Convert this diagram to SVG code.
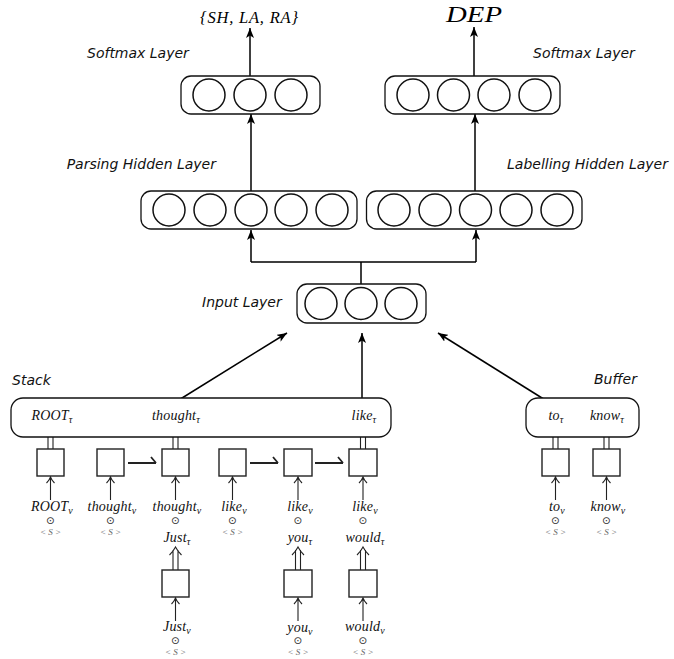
<svg xmlns="http://www.w3.org/2000/svg" xmlns:xlink="http://www.w3.org/1999/xlink" width="674" height="659" viewBox="0 0 674 659">
<style>
.lay{fill:#fff;stroke:#111;stroke-width:1.3}
.neu{fill:#fff;stroke:#111;stroke-width:1.5}
.lbl{font-family:"DejaVu Sans",sans-serif;font-style:italic;font-size:14px;fill:#111}
.m{font-family:"Liberation Serif",serif;font-style:italic;font-size:14px;fill:#111;text-anchor:middle;letter-spacing:0.2px}
.sub{font-size:10px}
.dot{font-family:"DejaVu Sans",sans-serif;font-size:10.5px;fill:#333;text-anchor:middle}
.s{font-family:"Liberation Serif",serif;font-style:italic;font-size:9px;fill:#666;text-anchor:middle}
.sq{fill:#fff;stroke:#222;stroke-width:1.4}
.arr{stroke:#000;stroke-width:1.5;fill:none;marker-end:url(#ah)}
.thin{stroke:#222;stroke-width:1.1;fill:none}
.harp{stroke:#222;stroke-width:1.8;fill:none}
</style>
<defs>
<marker id="ah" markerUnits="userSpaceOnUse" markerWidth="11" markerHeight="8" refX="10" refY="4" orient="auto">
<path d="M0,0 L10,4 L0,8 L2.5,4 z" fill="#000"/>
</marker>
<g id="darr" class="thin"><path d="M-2.5,23 V3 M2.5,23 V3 M-6,8 Q-2,4 0,0 Q2,4 6,8"/></g>
<g id="sarr" class="thin"><path d="M0,23 V0 M-4,6 Q-1,3 0,0 Q1,3 4,6"/></g>
<g id="harp" class="harp"><path d="M0,0 H28 M23,-6 L28,0"/></g>
</defs>

<g id="connectors">
<line class="arr" x1="250" y1="76" x2="250" y2="28"/>
<line class="arr" x1="474" y1="76" x2="474" y2="27"/>
<line class="arr" x1="251" y1="191" x2="251" y2="114"/>
<line class="arr" x1="475" y1="191" x2="475" y2="114"/>
<path d="M361,284 V262 M251,262 H476" stroke="#000" stroke-width="1.5" fill="none"/>
<line class="arr" x1="251" y1="262" x2="251" y2="230"/>
<line class="arr" x1="476" y1="262" x2="476" y2="230"/>
<line class="arr" x1="174" y1="403" x2="287" y2="333"/>
<line class="arr" x1="362" y1="398" x2="362" y2="333"/>
<line class="arr" x1="550" y1="403" x2="438" y2="333"/>
<use xlink:href="#darr" x="50.5" y="426"/>
<use xlink:href="#darr" x="175.5" y="426"/>
<use xlink:href="#darr" x="363" y="426"/>
<use xlink:href="#darr" x="555.5" y="426"/>
<use xlink:href="#darr" x="606.5" y="426"/>
<use xlink:href="#darr" x="175.5" y="547"/>
<use xlink:href="#darr" x="298" y="547"/>
<use xlink:href="#darr" x="363" y="547"/>
<use xlink:href="#sarr" x="50.5" y="477"/>
<use xlink:href="#sarr" x="110.5" y="477"/>
<use xlink:href="#sarr" x="175.5" y="477"/>
<use xlink:href="#sarr" x="232.5" y="477"/>
<use xlink:href="#sarr" x="298" y="477"/>
<use xlink:href="#sarr" x="363" y="477"/>
<use xlink:href="#sarr" x="555.5" y="477"/>
<use xlink:href="#sarr" x="606.5" y="477"/>
<use xlink:href="#sarr" x="175.5" y="598"/>
<use xlink:href="#sarr" x="298" y="598"/>
<use xlink:href="#sarr" x="363" y="598"/>
<use xlink:href="#harp" x="128" y="463"/>
<use xlink:href="#harp" x="250" y="463"/>
<use xlink:href="#harp" x="315" y="463"/>
</g>

<g id="out-parse">
<text x="249" y="23" font-family="Liberation Serif,serif" font-style="italic" font-size="16.5" text-anchor="middle" textLength="98" lengthAdjust="spacing">{SH, LA, RA}</text>
</g>
<g id="out-dep">
<text transform="translate(474,22) scale(1.25,1)" x="0" y="0" font-family="Liberation Serif,serif" font-style="italic" font-size="23" text-anchor="middle">DEP</text>
</g>

<g id="softmax-parse">
<rect class="lay" x="181" y="76" width="139" height="38" rx="10"/>
<circle class="neu" cx="209" cy="95" r="16"/>
<circle class="neu" cx="250" cy="95" r="16"/>
<circle class="neu" cx="291" cy="95" r="16"/>
<text class="lbl" x="87" y="58">Softmax Layer</text>
</g>
<g id="softmax-label">
<rect class="lay" x="385" y="76" width="175" height="38" rx="10"/>
<circle class="neu" cx="413" cy="95" r="16"/>
<circle class="neu" cx="453.5" cy="95" r="16"/>
<circle class="neu" cx="494" cy="95" r="16"/>
<circle class="neu" cx="535" cy="95" r="16"/>
<text class="lbl" x="533" y="58">Softmax Layer</text>
</g>

<g id="hidden-parse">
<rect class="lay" x="141" y="191" width="216" height="38" rx="10"/>
<circle class="neu" cx="169" cy="210" r="16"/>
<circle class="neu" cx="210" cy="210" r="16"/>
<circle class="neu" cx="251" cy="210" r="16"/>
<circle class="neu" cx="291" cy="210" r="16"/>
<circle class="neu" cx="332" cy="210" r="16"/>
<text class="lbl" x="216" y="169" text-anchor="end">Parsing Hidden Layer</text>
</g>
<g id="hidden-label">
<rect class="lay" x="366.5" y="191" width="215.5" height="38" rx="10"/>
<circle class="neu" cx="394" cy="210" r="16"/>
<circle class="neu" cx="435" cy="210" r="16"/>
<circle class="neu" cx="475.5" cy="210" r="16"/>
<circle class="neu" cx="516" cy="210" r="16"/>
<circle class="neu" cx="557" cy="210" r="16"/>
<text class="lbl" x="507" y="169">Labelling Hidden Layer</text>
</g>

<g id="input">
<rect class="lay" x="297" y="284" width="129" height="39" rx="10"/>
<circle class="neu" cx="321" cy="303.5" r="16"/>
<circle class="neu" cx="361" cy="303.5" r="16"/>
<circle class="neu" cx="401" cy="303.5" r="16"/>
<text class="lbl" x="202" y="307">Input Layer</text>
</g>

<g id="stack">
<rect class="lay" x="11" y="398" width="380" height="39" rx="12"/>
<text class="lbl" x="12" y="385">Stack</text>
<text class="m" x="52" y="420">ROOT<tspan class="sub" dy="3">τ</tspan></text>
<text class="m" x="176" y="420">thought<tspan class="sub" dy="3">τ</tspan></text>
<text class="m" x="364" y="420">like<tspan class="sub" dy="3">τ</tspan></text>
</g>
<g id="buffer">
<rect class="lay" x="526" y="398" width="113" height="39" rx="12"/>
<text class="lbl" x="594" y="384">Buffer</text>
<text class="m" x="556" y="420">to<tspan class="sub" dy="3">τ</tspan></text>
<text class="m" x="607" y="420">know<tspan class="sub" dy="3">τ</tspan></text>
</g>

<g id="n-root">
<rect class="sq" x="37" y="449" width="27" height="27"/>
<text class="m" x="52" y="511">ROOT<tspan class="sub" dy="3">v</tspan></text>
<text class="dot" x="50.5" y="524">⊙</text>
<text class="s" x="50.5" y="535">&lt; S &gt;</text>
</g>
<g id="n-thought1">
<rect class="sq" x="97" y="449" width="27" height="27"/>
<text class="m" x="112" y="511">thought<tspan class="sub" dy="3">v</tspan></text>
<text class="dot" x="110.5" y="524">⊙</text>
<text class="s" x="110.5" y="535">&lt; S &gt;</text>
</g>
<g id="n-thought2">
<rect class="sq" x="162" y="449" width="27" height="27"/>
<text class="m" x="177" y="511">thought<tspan class="sub" dy="3">v</tspan></text>
<text class="dot" x="175.5" y="524">⊙</text>
<text class="m" x="177" y="542">Just<tspan class="sub" dy="3">τ</tspan></text>
</g>
<g id="n-just">
<rect class="sq" x="162" y="570" width="27" height="27"/>
<text class="m" x="177" y="631">Just<tspan class="sub" dy="3">v</tspan></text>
<text class="dot" x="175.5" y="644">⊙</text>
<text class="s" x="175.5" y="655">&lt; S &gt;</text>
</g>
<g id="n-like1">
<rect class="sq" x="219" y="449" width="27" height="27"/>
<text class="m" x="234" y="511">like<tspan class="sub" dy="3">v</tspan></text>
<text class="dot" x="232.5" y="524">⊙</text>
<text class="s" x="232.5" y="535">&lt; S &gt;</text>
</g>
<g id="n-like2">
<rect class="sq" x="284" y="449" width="28" height="27"/>
<text class="m" x="300" y="511">like<tspan class="sub" dy="3">v</tspan></text>
<text class="dot" x="298" y="524">⊙</text>
<text class="m" x="300" y="542" font-size="17">you<tspan class="sub" dy="3">τ</tspan></text>
</g>
<g id="n-you">
<rect class="sq" x="284" y="570" width="28" height="27"/>
<text class="m" x="300" y="632" font-size="17">you<tspan class="sub" dy="3">v</tspan></text>
<text class="dot" x="298" y="644">⊙</text>
<text class="s" x="298" y="655">&lt; S &gt;</text>
</g>
<g id="n-like3">
<rect class="sq" x="349" y="449" width="28" height="27"/>
<text class="m" x="365" y="511">like<tspan class="sub" dy="3">v</tspan></text>
<text class="dot" x="363" y="524">⊙</text>
<text class="m" x="365" y="542">would<tspan class="sub" dy="3">τ</tspan></text>
</g>
<g id="n-would">
<rect class="sq" x="349" y="570" width="28" height="27"/>
<text class="m" x="365" y="631">would<tspan class="sub" dy="3">v</tspan></text>
<text class="dot" x="363" y="644">⊙</text>
<text class="s" x="363" y="655">&lt; S &gt;</text>
</g>
<g id="n-to">
<rect class="sq" x="542" y="449" width="27" height="27"/>
<text class="m" x="557" y="511">to<tspan class="sub" dy="3">v</tspan></text>
<text class="dot" x="555.5" y="524">⊙</text>
<text class="s" x="555.5" y="535">&lt; S &gt;</text>
</g>
<g id="n-know">
<rect class="sq" x="593" y="449" width="27" height="27"/>
<text class="m" x="608" y="511">know<tspan class="sub" dy="3">v</tspan></text>
<text class="dot" x="606.5" y="524">⊙</text>
<text class="s" x="606.5" y="535">&lt; S &gt;</text>
</g>
</svg>
